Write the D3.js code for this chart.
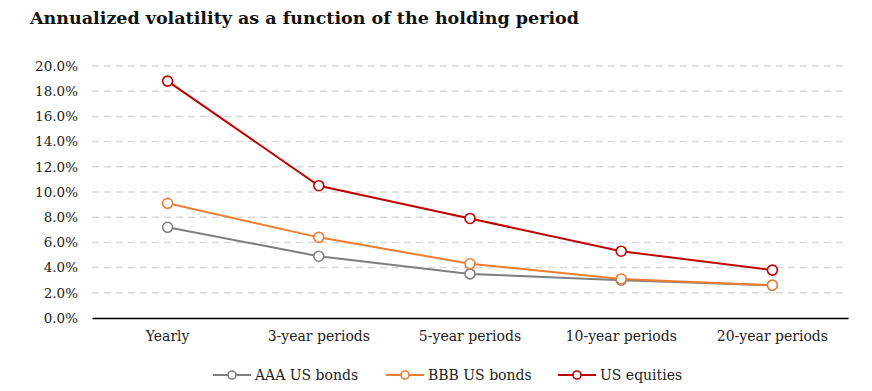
<!DOCTYPE html>
<html>
<head>
<meta charset="utf-8">
<script src="https://cdn.jsdelivr.net/npm/d3@7"></script>
<style>
  body { margin: 0; background: #fff; }
  text { font-family: 'DejaVu Serif', 'Liberation Serif', serif; }
</style>
</head>
<body>
<svg id="chart" width="872" height="391"></svg>
<script>
const categories = ['Yearly', '3-year periods', '5-year periods', '10-year periods', '20-year periods'];
const aaaBonds = [7.2, 4.9, 3.5, 3.0, 2.6];
const bbbBonds = [9.1, 6.4, 4.3, 3.1, 2.6];
const usEquities = [18.8, 10.5, 7.9, 5.3, 3.8];
const yTicks = [0, 2, 4, 6, 8, 10, 12, 14, 16, 18, 20];

const series = [
  { name: 'AAA US bonds', values: aaaBonds, color: '#7f7f7f' },
  { name: 'BBB US bonds', values: bbbBonds, color: '#ed7d31' },
  { name: 'US equities', values: usEquities, color: '#c00000' }
];

const svg = d3.select('#chart');
const margin = { left: 92, right: 24, top: 66, bottom: 73 };
const width = 872, height = 391;
const font = "'DejaVu Serif', serif";

const x = d3.scaleBand()
            .domain(categories)
            .range([margin.left, width - margin.right]);

const y = d3.scaleLinear()
            .domain([0, 20])
            .range([height - margin.bottom, margin.top]);

svg.append('text')
    .attr('x', 30)
    .attr('y', 24)
    .attr('font-size', '17.5px')
    .attr('font-weight', 'bold')
    .attr('fill', '#111')
    .text('Annualized volatility as a function of the holding period');

// gridlines
svg.append('g')
    .selectAll('line')
    .data(yTicks.filter(d => d > 0))
    .enter()
    .append('line')
      .attr('x1', margin.left)
      .attr('x2', width - margin.right)
      .attr('y1', d => y(d))
      .attr('y2', d => y(d))
      .attr('stroke', '#d9d9d9')
      .attr('stroke-width', 1.5)
      .attr('stroke-dasharray', '7,5');

// y axis labels
const yAxis = svg.append('g')
    .attr('transform', 'translate(' + margin.left + ',0)')
    .call(d3.axisLeft(y).tickValues(yTicks).tickFormat(d => d.toFixed(1) + '%').tickSize(0).tickPadding(14));
yAxis.select('.domain').remove();
yAxis.selectAll('text')
    .attr('font-size', '13.5px')
    .attr('fill', '#222')
    .style('font-family', font);

// x axis
const xAxis = svg.append('g')
    .attr('transform', 'translate(0,' + y(0) + ')')
    .call(d3.axisBottom(x).tickSize(0).tickPadding(13));
xAxis.select('.domain')
    .attr('stroke', '#000')
    .attr('stroke-width', 1.5);
xAxis.selectAll('text')
    .attr('font-size', '14px')
    .attr('fill', '#222')
    .style('font-family', font);

const line = d3.line()
                .x((d, i) => x(categories[i]) + x.bandwidth() / 2)
                .y(d => y(d));

const groups = svg.append('g')
    .selectAll('.series')
    .data(series)
    .enter()
    .append('g')
    .classed('series', true);

groups.append('path')
    .attr('d', d => line(d.values))
    .attr('fill', 'none')
    .attr('stroke', d => d.color)
    .attr('stroke-width', 2);

groups.selectAll('circle')
    .data(d => d.values.map((v, i) => ({ v: v, i: i, color: d.color })))
    .enter()
    .append('circle')
      .attr('cx', d => x(categories[d.i]) + x.bandwidth() / 2)
      .attr('cy', d => y(d.v))
      .attr('r', 5)
      .attr('fill', '#fff')
      .attr('stroke', d => d.color)
      .attr('stroke-width', 1.6);

// legend
const legendX = [213, 386, 558];
const legend = svg.append('g')
    .selectAll('.legend-item')
    .data(series)
    .enter()
    .append('g')
    .classed('legend-item', true)
    .attr('transform', (d, i) => 'translate(' + legendX[i] + ', 375)');

legend.append('line')
    .attr('x1', 0)
    .attr('x2', 38)
    .attr('stroke', d => d.color)
    .attr('stroke-width', 2);

legend.append('circle')
    .attr('cx', 19)
    .attr('r', 4)
    .attr('fill', '#fff')
    .attr('stroke', d => d.color)
    .attr('stroke-width', 1.6);

legend.append('text')
    .attr('x', 42)
    .attr('y', 5)
    .attr('font-size', '14px')
    .attr('fill', '#222')
    .style('font-family', font)
    .text(d => d.name);
</script>
</body>
</html>
